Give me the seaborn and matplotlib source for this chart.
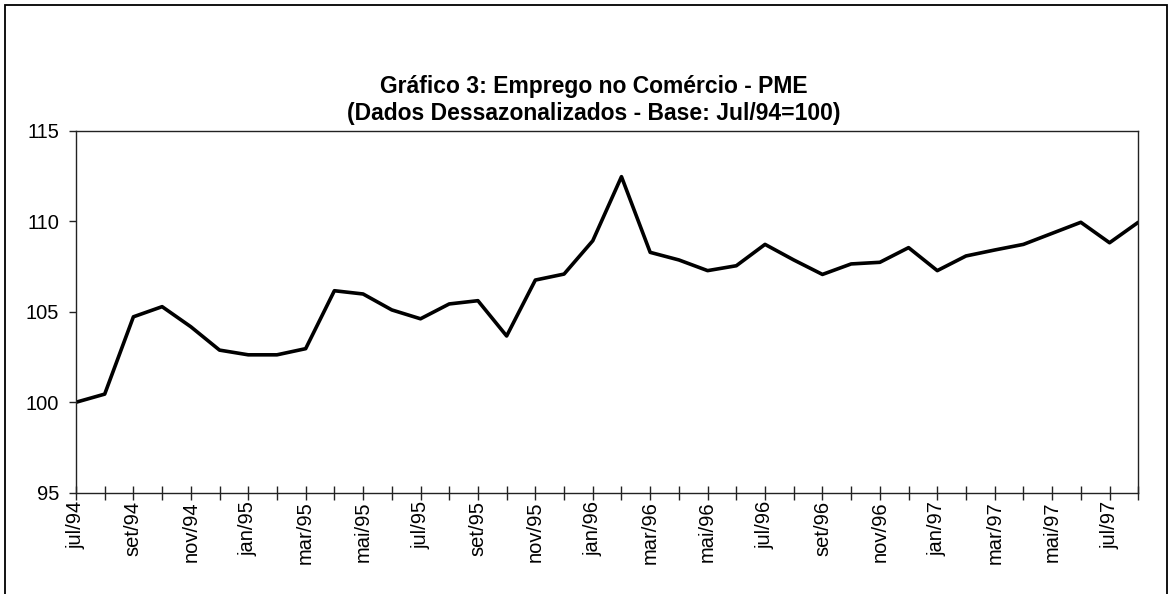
import numpy as np
import pandas as pd
import seaborn as sns
import matplotlib.pyplot as plt
from matplotlib.patches import Rectangle

meses = ['jul/94', 'ago/94', 'set/94', 'out/94', 'nov/94', 'dez/94',
         'jan/95', 'fev/95', 'mar/95', 'abr/95', 'mai/95', 'jun/95',
         'jul/95', 'ago/95', 'set/95', 'out/95', 'nov/95', 'dez/95',
         'jan/96', 'fev/96', 'mar/96', 'abr/96', 'mai/96', 'jun/96',
         'jul/96', 'ago/96', 'set/96', 'out/96', 'nov/96', 'dez/96',
         'jan/97', 'fev/97', 'mar/97', 'abr/97', 'mai/97', 'jun/97',
         'jul/97', 'ago/97']
emprego = [100.0, 100.45, 104.72, 105.28, 104.17, 102.88,
           102.62, 102.62, 102.96, 106.16, 105.98, 105.1,
           104.61, 105.43, 105.61, 103.66, 106.75, 107.08,
           108.92, 112.46, 108.28, 107.86, 107.27, 107.54,
           108.72, 107.86, 107.06, 107.64, 107.73, 108.54,
           107.27, 108.08, 108.41, 108.72, 109.33, 109.94,
           108.81, 109.94]

df = pd.DataFrame({'pos': np.arange(len(meses)), 'mes': meses, 'valor': emprego})

sns.set_style('white')
plt.rcParams['font.family'] = ['Liberation Sans', 'DejaVu Sans']
plt.rcParams['text.color'] = 'black'
plt.rcParams['xtick.color'] = 'black'
plt.rcParams['ytick.color'] = 'black'

fig = plt.figure(figsize=(11.69, 5.94), dpi=100)
ax = fig.add_axes([0.065, 0.1704, 0.9087, 0.6096])

sns.lineplot(data=df, x='pos', y='valor', color='black', linewidth=2.6, ax=ax)

ax.set_xlim(0, len(meses) - 1)
ax.set_ylim(95, 115)
ax.set_yticks([95, 100, 105, 110, 115])
ax.set_xticks(df['pos'])
ax.set_xticklabels([m if i % 2 == 0 else '' for i, m in enumerate(meses)], rotation=90)
ax.tick_params(axis='x', bottom=True, direction='inout', length=10, width=1,
               labelsize=14.5, pad=1, color='#222222')
ax.tick_params(axis='y', left=True, direction='out', length=5, width=1,
               labelsize=14.5, pad=7, color='#222222')
ax.set_xlabel('')
ax.set_ylabel('')

for s in ax.spines.values():
    s.set_visible(True)
    s.set_color('#222222')
    s.set_linewidth(1)

fig.text(0.508, 0.832, 'Gráfico 3: Emprego no Comércio - PME\n(Dados Dessazonalizados - Base: Jul/94=100)',
         ha='center', va='center', fontsize=16.5, fontweight='bold', linespacing=1.25)

fig.patches.append(Rectangle((5 / 1169, -0.1), 1162 / 1169, 1.1 - 5 / 594,
                             transform=fig.transFigure, fill=False,
                             edgecolor='black', linewidth=1.3))

fig.savefig('out.png', dpi=100)
